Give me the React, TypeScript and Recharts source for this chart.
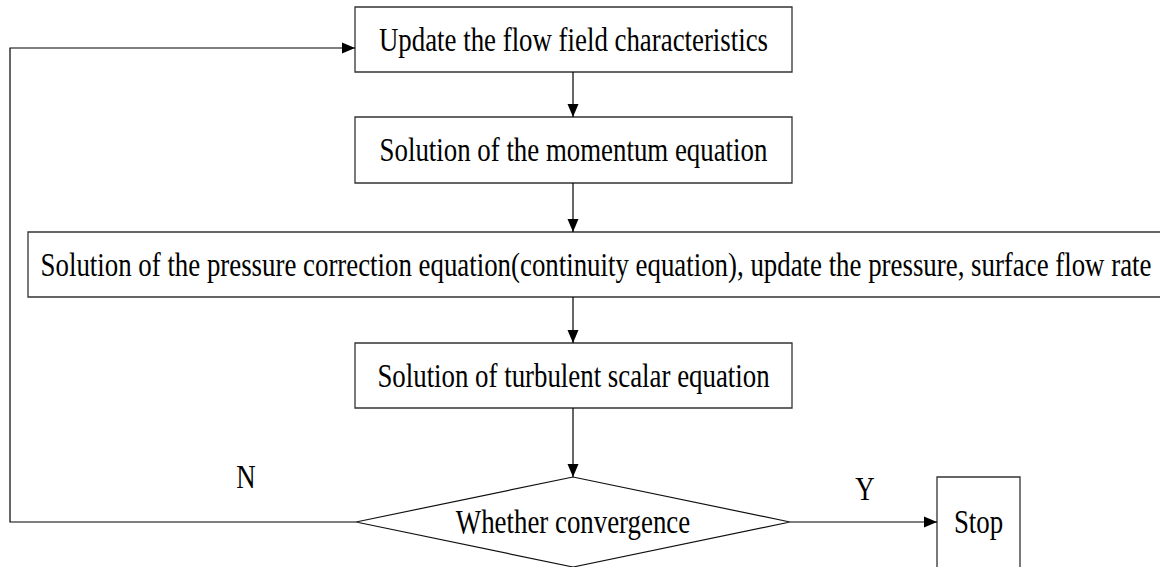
import { ScatterChart, Scatter, XAxis, YAxis, ReferenceArea } from "recharts"

// canvas = one unit per pixel, y runs downwards
const W = 1160
const H = 567

// process steps, top to bottom
const stepLabels = [
  "Update the flow field characteristics",
  "Solution of the momentum equation",
  "Solution of the pressure correction equation(continuity equation), update the pressure, surface flow rate",
  "Solution of turbulent scalar equation",
]
const stepLeft = [355, 355, 28, 355]
const stepRight = [792, 792, 1164, 792]
const stepTop = [7, 117, 232, 343]
const stepBottom = [72, 183, 297, 408]

// decision diamond
const decisionLabel = "Whether convergence"
const decisionCenter = { x: 573, y: 522 }
const decisionHalfW = 217
const decisionHalfH = 45

// end node
const stopLabel = "Stop"
const stopLeft = 937
const stopRight = 1020
const stopTop = 477
const stopBottom = 568

// branch letters
const branchLabels = [
  { x: 246, y: 477, label: "N" },
  { x: 865, y: 489, label: "Y" },
]

// connectors (last point gets the arrow head)
const connectors = [
  [{ x: 573, y: 72 }, { x: 573, y: 117 }],
  [{ x: 573, y: 183 }, { x: 573, y: 232 }],
  [{ x: 573, y: 297 }, { x: 573, y: 343 }],
  [{ x: 573, y: 408 }, { x: 573, y: 477 }],
  [{ x: 790, y: 522 }, { x: 937, y: 522 }],
  [{ x: 356, y: 522 }, { x: 10, y: 522 }, { x: 10, y: 48 }, { x: 355, y: 48 }],
]

const FONT =
  "'Liberation Serif', 'Times New Roman', Tinos, 'Nimbus Roman', 'Nimbus Roman No9 L', 'Noto Serif', FreeSerif, 'DejaVu Serif', serif"
const FONT_SIZE = 34
const SQUEEZE = 0.79 // glyphs in the source are narrow
const CAP_HALF = 11

const diamondPts = [
  { x: decisionCenter.x, y: decisionCenter.y - decisionHalfH },
  { x: decisionCenter.x + decisionHalfW, y: decisionCenter.y },
  { x: decisionCenter.x, y: decisionCenter.y + decisionHalfH },
  { x: decisionCenter.x - decisionHalfW, y: decisionCenter.y },
  { x: decisionCenter.x, y: decisionCenter.y - decisionHalfH },
]

const captions = [
  ...stepLabels.map((label, i) => ({
    x: (stepLeft[i] + stepRight[i]) / 2,
    y: (stepTop[i] + stepBottom[i]) / 2,
    label,
  })),
  { x: decisionCenter.x, y: decisionCenter.y, label: decisionLabel },
  { x: (stopLeft + stopRight) / 2, y: (stopTop + stopBottom) / 2 - 1, label: stopLabel },
  ...branchLabels,
]

const arrowHeads = connectors.map((pts) => {
  const end = pts[pts.length - 1]
  const prev = pts[pts.length - 2]
  return { x: end.x, y: end.y, dir: end.x > prev.x ? "right" : "down" }
})

function Caption(props: any) {
  const { cx, cy, payload } = props
  return (
    <text
      transform={`translate(${cx},${cy + CAP_HALF}) scale(${SQUEEZE},1)`}
      textAnchor="middle"
      fontFamily={FONT}
      fontSize={FONT_SIZE}
      fill="#000"
      style={{ fontFamily: FONT }}
    >
      {payload.label}
    </text>
  )
}

function ArrowHead(props: any) {
  const { cx, cy, payload } = props
  const len = 13
  const half = 5.5
  const pts =
    payload.dir === "down"
      ? `${cx},${cy} ${cx - half},${cy - len} ${cx + half},${cy - len}`
      : `${cx},${cy} ${cx - len},${cy - half} ${cx - len},${cy + half}`
  return <polygon points={pts} fill="#000" />
}

const noDot = () => <g />

export default function App() {
  return (
    <div style={{ position: "absolute", left: 0, top: 0, width: W, height: H, background: "#fff", fontFamily: FONT }}>
      <ScatterChart width={W} height={H} margin={{ top: 0, right: 0, bottom: 0, left: 0 }}>
        <XAxis type="number" dataKey="x" domain={[0, W]} allowDataOverflow hide />
        <YAxis type="number" dataKey="y" domain={[0, H]} allowDataOverflow reversed hide />

        {/* flow lines */}
        {connectors.map((pts, i) => (
          <Scatter
            key={`c${i}`}
            data={pts}
            line={{ stroke: "#000", strokeWidth: 1.2 }}
            lineJointType="linear"
            shape={noDot}
            isAnimationActive={false}
          />
        ))}

        {/* decision diamond */}
        <Scatter
          data={diamondPts}
          line={{ stroke: "#111", strokeWidth: 1.2 }}
          lineJointType="linear"
          shape={noDot}
          isAnimationActive={false}
        />

        {/* process boxes */}
        {stepLabels.map((label, i) => (
          <ReferenceArea
            key={label}
            x1={stepLeft[i]}
            x2={stepRight[i]}
            y1={stepTop[i]}
            y2={stepBottom[i]}
            fill="#fff"
            fillOpacity={1}
            stroke="#333"
            strokeWidth={1.3}
            ifOverflow="visible"
          />
        ))}
        <ReferenceArea
          x1={stopLeft}
          x2={stopRight}
          y1={stopTop}
          y2={stopBottom}
          fill="#fff"
          fillOpacity={1}
          stroke="#333"
          strokeWidth={1.3}
          ifOverflow="visible"
        />

        <Scatter data={arrowHeads} shape={ArrowHead} isAnimationActive={false} />
        <Scatter data={captions} shape={Caption} isAnimationActive={false} />
      </ScatterChart>
    </div>
  )
}
